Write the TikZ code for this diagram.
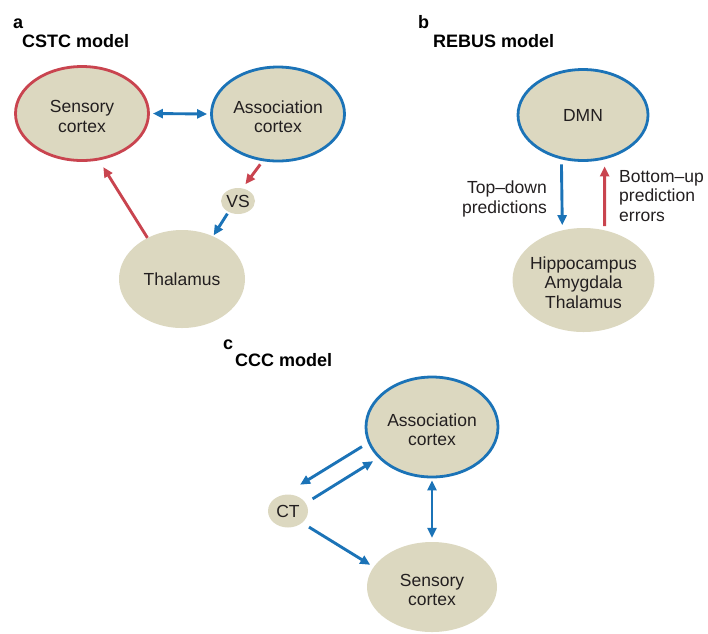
\documentclass[tikz,border=0pt]{standalone}
\usepackage{fontspec}
\setmainfont{Liberation Sans}
\usetikzlibrary{shapes.geometric,arrows.meta}
\definecolor{regionfill}{HTML}{DCD8C0}
\definecolor{hubblue}{HTML}{1B73B7}
\definecolor{hubred}{HTML}{C9444F}
\definecolor{inktext}{HTML}{231F20}
\def\bodysize{\fontsize{17.5}{19.5}\selectfont}
\def\headsize{\fontsize{18}{20}\selectfont\bfseries}
\def\lift{\rule{0pt}{18pt}}

\begin{document}
\begin{tikzpicture}[x=1pt,y=-1pt,
    region/.style={ellipse,fill=regionfill,inner sep=0pt,align=center,text=inktext,font=\bodysize},
    big/.style={region,minimum width=133pt,minimum height=94pt},
    small/.style={region,minimum width=34pt,minimum height=26pt},
    redrim/.style={draw=hubred,line width=2.8pt},
    bluerim/.style={draw=hubblue,line width=2.8pt},
    flow/.style={line width=2.9pt,>={Triangle[length=10pt,width=9pt]}},
    bflow/.style={flow,hubblue},
    rflow/.style={flow,hubred},
    head/.style={anchor=base west,inner sep=0pt,text=black,font=\headsize},
    note/.style={inner sep=0pt,text=inktext,font=\bodysize}]
  \useasboundingbox (0,0) rectangle (708,633);
  \node[head] (alabel) at (13,28) {a};
  \node[head] (atitle) at (22,47) {CSTC model};
  \node[big,redrim] (sensa) at (82,113.5) {\lift Sensory\\cortex};
  \node[big,bluerim] (assoca) at (278,114) {\lift Association\\cortex};
  \node[small] (vs) at (238,201) {VS};
  \node[big,minimum width=126pt,minimum height=98pt] (thala) at (182,279) {Thalamus};
  \draw[bflow,<->,shorten <=3pt,shorten >=3pt] (sensa.east) -- (assoca.west);
  \draw[rflow,->,shorten <=4pt,shorten >=5pt] (assoca.252) -- (vs.71);
  \draw[bflow,->,shorten <=2pt,shorten >=1pt] (vs.229) -- (thala.54);
  \draw[rflow,->,shorten >=8pt] (thala.130) -- (sensa.290);

  \node[head] (blabel) at (418,28) {b};
  \node[head] (btitle) at (433,47) {REBUS model};
  \node[big,bluerim,minimum width=130pt,minimum height=91pt] (dmn) at (583,115) {DMN};
  \node[big,inner xsep=-10pt,minimum width=142pt,minimum height=104pt] (hip) at (583.5,280) {\lift Hippocampus\\Amygdala\\Thalamus};
  \draw[bflow,->,shorten <=5pt,shorten >=5pt] (dmn.244) -- (hip.113);
  \draw[rflow,->,shorten <=4pt,shorten >=7pt] (hip.67) -- (dmn.296);
  \node[note,align=right,anchor=east] (tdtext) at (547,199) {Top–down\\predictions};
  \node[note,align=left,anchor=west] (butext) at (619,196) {Bottom–up\\prediction\\errors};

  \node[head] (clabel) at (223,349.5) {c};
  \node[head] (ctitle) at (235,366.5) {CCC model};
  \node[big,bluerim,minimum width=132pt,minimum height=100pt] (assocc) at (432,427) {\lift Association\\cortex};
  \node[big,minimum width=130pt,minimum height=90pt] (sensc) at (432,587) {\lift Sensory\\cortex};
  \node[small,minimum width=40pt,minimum height=33pt] (ct) at (288,511) {CT};
  \draw[bflow,->,shorten <=7pt,shorten >=19pt] (assocc.194) -- (ct.104);
  \draw[bflow,->,shorten <=8pt,shorten >=6pt] (ct.24) -- (assocc.210);
  \draw[bflow,->,shorten <=8pt,shorten >=4pt] (ct.320) -- (sensc.161);
  \draw[bflow,<->,shorten <=2pt,shorten >=4pt] (assocc.south) -- (sensc.north);
\end{tikzpicture}
\end{document}
